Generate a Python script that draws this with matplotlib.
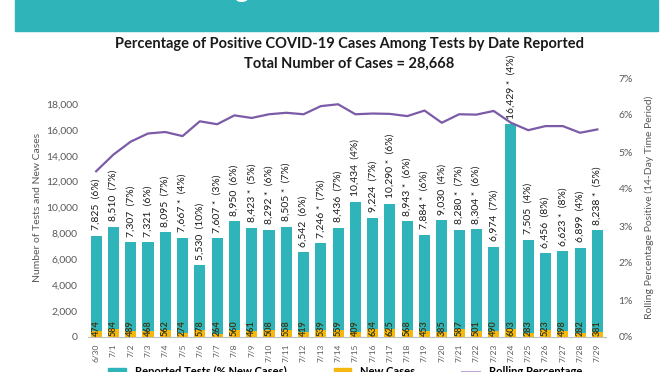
import matplotlib
matplotlib.use("Agg")
import matplotlib.pyplot as plt
from matplotlib.patches import Rectangle
from matplotlib.lines import Line2D
import numpy as np

dates = ["6/30", "7/1", "7/2", "7/3", "7/4", "7/5", "7/6", "7/7", "7/8", "7/9",
         "7/10", "7/11", "7/12", "7/13", "7/14", "7/15", "7/16", "7/17", "7/18", "7/19",
         "7/20", "7/21", "7/22", "7/23", "7/24", "7/25", "7/26", "7/27", "7/28", "7/29"]
tests = [7825, 8510, 7307, 7321, 8095, 7667, 5530, 7607, 8950, 8423,
         8292, 8505, 6542, 7246, 8436, 10434, 9224, 10290, 8943, 7884,
         9030, 8280, 8304, 6974, 16429, 7505, 6456, 6623, 6899, 8238]
pct_new = [6, 7, 7, 6, 7, 4, 10, 3, 6, 5, 6, 7, 6, 7, 7, 4, 7, 6, 6, 6,
           4, 7, 6, 7, 4, 4, 8, 8, 4, 5]
starred = [False, False, False, False, False, True, False, True, False, True,
           True, True, False, True, False, False, False, True, True, True,
           False, True, True, False, True, False, False, True, False, True]
new_cases = [474, 584, 489, 468, 562, 274, 578, 264, 560, 461,
             508, 558, 419, 539, 559, 409, 634, 625, 568, 453,
             385, 587, 501, 490, 603, 283, 523, 498, 282, 381]
rolling = [4.48, 4.93, 5.28, 5.50, 5.54, 5.43, 5.83, 5.75, 5.99, 5.92,
           6.02, 6.06, 6.02, 6.24, 6.29, 6.02, 6.04, 6.03, 5.97, 6.12,
           5.79, 6.02, 6.01, 6.11, 5.79, 5.59, 5.70, 5.70, 5.52, 5.61]

TEAL = "#2fb4b9"
YELLOW = "#f6b80e"
PURPLE = "#7b5ba8"
GREY = "#595959"
FONT = ["Lato", "DejaVu Sans"]

plt.rcParams["font.family"] = FONT

fig = plt.figure(figsize=(6.72, 3.72), dpi=100)

# header banner (page is cropped, only its lower part shows)
fig.patches.append(Rectangle((15 / 672, 1 - 31 / 372), 643 / 672, 31 / 372,
                             transform=fig.transFigure, color=TEAL, zorder=0))
fig.text(250 / 672, 1 + 2.5 / 372, "Testing", color="white", fontsize=20,
         fontweight="bold", ha="right", va="baseline")
fig.text(543 / 672, 1 + 0.5 / 372, "SAN DIEGO", color="white", fontsize=14,
         ha="left", va="baseline")

fig.text(0.52, 1 - 44 / 372, "Percentage of Positive COVID-19 Cases Among Tests by Date Reported",
         ha="center", va="center", fontsize=10.5, fontweight="bold", color="#1a1a1a")
fig.text(0.52, 1 - 64 / 372, "Total Number of Cases = 28,668",
         ha="center", va="center", fontsize=10.5, fontweight="bold", color="#1a1a1a")

ax = fig.add_axes([87.5 / 672, 35 / 372, 518.5 / 672, 259 / 372])
x = np.arange(len(dates))
ax.bar(x, tests, width=0.64, color=TEAL, zorder=2)
ax.bar(x, new_cases, width=0.64, color=YELLOW, zorder=3)

for i in range(len(dates)):
    star = " *" if starred[i] else ""
    ax.annotate(f"{tests[i]:,}{star}  ({pct_new[i]}%)", (x[i], tests[i]),
                xytext=(0, 4), textcoords="offset points", rotation=90,
                ha="center", va="bottom", fontsize=7.5, color="#1a1a1a",
                annotation_clip=False)
    ax.text(x[i], 690, str(new_cases[i]), rotation=90, ha="center", va="center",
            fontsize=6.5, fontweight="bold", color="#3a3a18", zorder=4)

ax.set_xlim(-0.5, len(dates) - 0.5)
ax.set_ylim(0, 20000)
ax.set_yticks(np.arange(0, 18001, 2000))
ax.set_yticklabels([f"{v:,}" for v in range(0, 18001, 2000)])
ax.set_xticks(x)
ax.set_xticklabels(dates, rotation=90, fontsize=6, color=GREY)
ax.tick_params(axis="y", length=0, labelsize=7.5, labelcolor=GREY, pad=7)
ax.tick_params(axis="x", length=0, pad=5)
for s in ["top", "right", "left"]:
    ax.spines[s].set_visible(False)
ax.spines["bottom"].set_color("#bfbfbf")
ax.set_ylabel("Number of Tests and New Cases", fontsize=7.5, color=GREY, labelpad=3)

ax2 = ax.twinx()
ax2.plot(x, rolling, color=PURPLE, lw=1.6, zorder=5)
ax2.set_ylim(0, 7)
ax2.set_yticks(range(0, 8))
ax2.set_yticklabels([f"{v}%" for v in range(0, 8)])
ax2.tick_params(axis="y", length=0, labelsize=7.5, labelcolor=GREY, pad=9)
for s in ["top", "right", "left", "bottom"]:
    ax2.spines[s].set_visible(False)
ax2.set_ylabel("Rolling Percentage Positive (14-Day Time Period)", fontsize=7.5,
               color=GREY, labelpad=8)

# legend sits at the cropped bottom edge of the page
handles = [Rectangle((0, 0), 1, 1, color=TEAL), Rectangle((0, 0), 1, 1, color=YELLOW),
           Line2D([], [], color="#b9a7d3", lw=1.5)]
fig.legend(handles, ["Reported Tests (% New Cases)", "New Cases", "Rolling Percentage"],
           loc="upper left", bbox_to_anchor=(104 / 672, 10 / 372), ncol=3, frameon=False,
           handlelength=1.6, handleheight=0.6, columnspacing=4.2, borderaxespad=0,
           prop={"weight": "bold", "size": 8})

fig.savefig("out.png", dpi=100)
